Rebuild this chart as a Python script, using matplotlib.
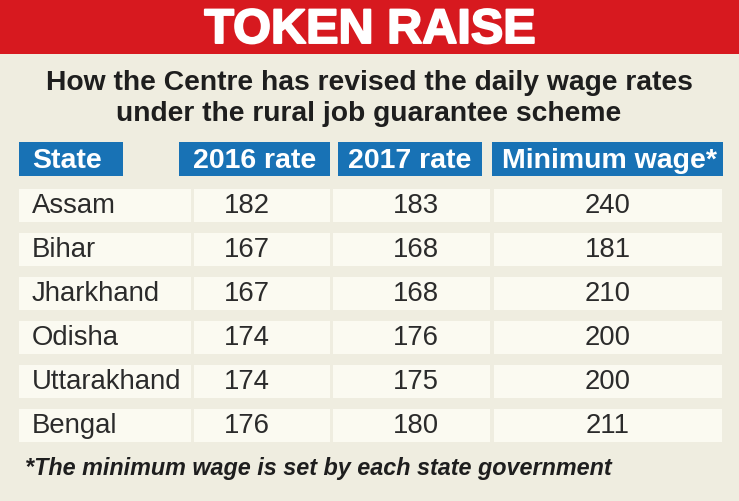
import matplotlib
matplotlib.use("Agg")
import matplotlib.pyplot as plt
from matplotlib.patches import Rectangle
from matplotlib import font_manager, patheffects

# ---- data ----
title = "TOKEN RAISE"
subtitle = ["How the Centre has revised the daily wage rates",
            "under the rural job guarantee scheme"]
headers = ["State", "2016 rate", "2017 rate", "Minimum wage*"]
states = ["Assam", "Bihar", "Jharkhand", "Odisha", "Uttarakhand", "Bengal"]
rate_2016 = [182, 167, 167, 174, 174, 176]
rate_2017 = [183, 168, 168, 176, 175, 180]
min_wage = [240, 181, 210, 200, 200, 211]
footnote = "*The minimum wage is set by each state government"

# ---- fonts ----
names = {f.name for f in font_manager.fontManager.ttflist}
SANS = "Liberation Sans" if "Liberation Sans" in names else "DejaVu Sans"
NARROW = "Liberation Sans Narrow" if "Liberation Sans Narrow" in names else SANS
foot_size = 18.5 if NARROW != SANS else 16.8

# ---- colours ----
BG = "#EFEDE0"
RED = "#D7191F"
BLUE = "#1872B5"
CELL = "#FBFAF1"
TXT = "#2B2B2B"

W, H = 739, 501
fig = plt.figure(figsize=(W / 100, H / 100), dpi=100, facecolor=BG)
ax = fig.add_axes([0, 0, 1, 1])
ax.set_xlim(0, W)
ax.set_ylim(H, 0)
ax.axis("off")
ax.set_facecolor(BG)

# banner
ax.add_patch(Rectangle((0, 0), W, 54, color=RED, lw=0))
ax.text(370, 43, title, ha="center", va="baseline", color="white",
        fontsize=35, fontweight="bold", family=SANS,
        path_effects=[patheffects.withStroke(linewidth=1.4, foreground="white")])

# subtitle
for i, line in enumerate(subtitle):
    ax.text(369, 90 + 31 * i, line, ha="center", va="baseline", color="#1E1E1E",
            fontsize=20.3, fontweight="bold", family=SANS)

# header boxes
hdr_boxes = [(19, 123), (179, 330), (338, 482), (492, 723)]
hdr_top, hdr_bot = 142, 176
for j, (x0, x1) in enumerate(hdr_boxes):
    ax.add_patch(Rectangle((x0, hdr_top), x1 - x0, hdr_bot - hdr_top, color=BLUE, lw=0))
    if j == 0:
        ax.text(32, 168, headers[j], ha="left", va="baseline", color="white",
                fontsize=20.5, fontweight="bold", family=SANS)
    else:
        ax.text((x0 + x1) / 2 + (2 if j == 3 else 0), 168, headers[j], ha="center",
                va="baseline", color="white", fontsize=20.5, fontweight="bold", family=SANS)

# rows
cell_x = [(19, 191), (194, 330), (333, 490), (494, 722)]
num_cx = [247, 416, 608]
row_top0, pitch, row_h = 189, 44, 33
for i, st in enumerate(states):
    top = row_top0 + pitch * i
    for (x0, x1) in cell_x:
        ax.add_patch(Rectangle((x0, top), x1 - x0, row_h, color=CELL, lw=0))
    base = top + 24
    ax.text(32, base, st, ha="left", va="baseline", color=TXT, fontsize=19.8, family=SANS)
    for cx, val in zip(num_cx, (rate_2016[i], rate_2017[i], min_wage[i])):
        ax.text(cx, base, str(val), ha="center", va="baseline", color=TXT,
                fontsize=19.8, family=SANS)

# footnote
ax.text(25, 475, footnote, ha="left", va="baseline", color="#1E1E1E",
        fontsize=foot_size, fontweight="bold", fontstyle="italic", family=NARROW)

fig.savefig("out.png", dpi=100, facecolor=BG)
